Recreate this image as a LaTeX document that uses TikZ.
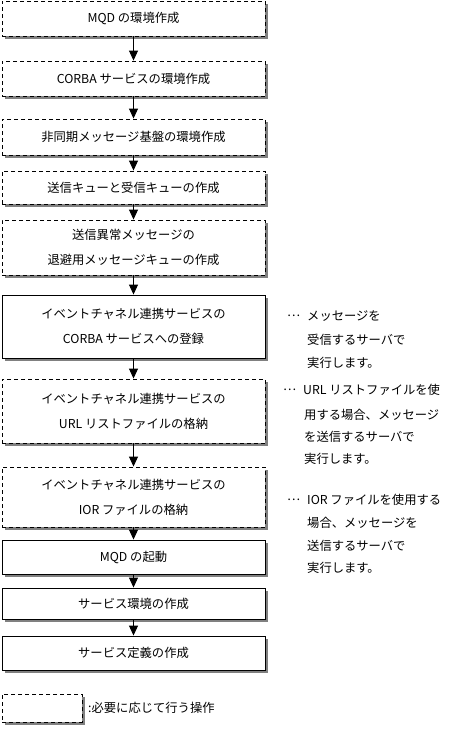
\documentclass[tikz,border=0pt]{standalone}
\usepackage{fontspec}
\setmainfont{Noto Sans CJK JP}
\usetikzlibrary{arrows.meta,shadows}
\begin{document}
\begin{tikzpicture}[x=1pt,y=-1pt,
  font=\fontsize{12.3}{25}\selectfont,
  shad/.style={general shadow={shadow xshift=3pt,shadow yshift=-3pt,fill=black!50}},
  basebox/.style={draw=black,line width=0.9pt,fill=white,shad,inner sep=0pt,
     minimum width=263pt,align=center},
  solidbox/.style={basebox},
  optbox/.style={basebox,dash pattern=on 4pt off 3pt},
  flow/.style={draw=black,line width=1pt,-{Triangle[width=9pt,length=10pt]}},
  note/.style={anchor=west,inner sep=0pt}
]
\useasboundingbox (0,0) rectangle (452,734);

\node[optbox,minimum height=35pt] (b1) at (133.5,18.5) {MQD の環境作成};
\node[optbox,minimum height=35pt] (b2) at (133.5,78.5) {CORBA サービスの環境作成};
\node[optbox,minimum height=36pt] (b3) at (133.5,137) {非同期メッセージ基盤の環境作成};
\node[optbox,minimum height=33pt] (b4) at (133.5,187.5) {送信キューと受信キューの作成};
\node[optbox,minimum height=55pt] (b5) at (133.5,247.5) {送信異常メッセージの\\退避用メッセージキューの作成};
\node[solidbox,minimum height=63pt] (b6) at (133.5,326.5) {イベントチャネル連携サービスの\\CORBA サービスへの登録};
\node[optbox,minimum height=64pt] (b7) at (133.5,411) {イベントチャネル連携サービスの\\URL リストファイルの格納};
\node[optbox,minimum height=60pt] (b8) at (133.5,497) {イベントチャネル連携サービスの\\IOR ファイルの格納};
\node[solidbox,minimum height=34pt] (b9) at (133.5,557) {MQD の起動};
\node[solidbox,minimum height=31pt] (b10) at (133.5,603.5) {サービス環境の作成};
\node[solidbox,minimum height=34pt] (b11) at (133.5,653) {サービス定義の作成};

\draw[flow] (b1.south) -- (b2.north);
\draw[flow] (b2.south) -- (b3.north);
\draw[flow] (b3.south) -- (b4.north);
\draw[flow] (b4.south) -- (b5.north);
\draw[flow] (b5.south) -- (b6.north);
\draw[flow] (b6.south) -- (b7.north);
\draw[flow] (b7.south) -- (b8.north);
\draw[flow] (b8.south) -- (b9.north);
\draw[flow] (b9.south) -- (b10.north);
\draw[flow] (b10.south) -- (b11.north);

% annotations
\node[note] (n1a) at (287,316) {…};
\node[note] (n1b) at (307,316) {メッセージを};
\node[note] (n1c) at (307,340) {受信するサーバで};
\node[note] (n1d) at (307,363) {実行します。};

\node[note] (n2a) at (283,390) {…};
\node[note] (n2b) at (303,390) {URL リストファイルを使};
\node[note] (n2c) at (304,415) {用する場合、メッセージ};
\node[note] (n2d) at (304,437) {を送信するサーバで};
\node[note] (n2e) at (304,459) {実行します。};

\node[note] (n3a) at (287,500) {…};
\node[note] (n3b) at (307,500) {IOR ファイルを使用する};
\node[note] (n3c) at (307,523) {場合、メッセージを};
\node[note] (n3d) at (307,546) {送信するサーバで};
\node[note] (n3e) at (307,568) {実行します。};

% legend
\node[optbox,minimum width=80pt,minimum height=28pt] (lg) at (42,708) {};
\node[note] (lgt) at (88,708) {:必要に応じて行う操作};
\end{tikzpicture}
\end{document}
